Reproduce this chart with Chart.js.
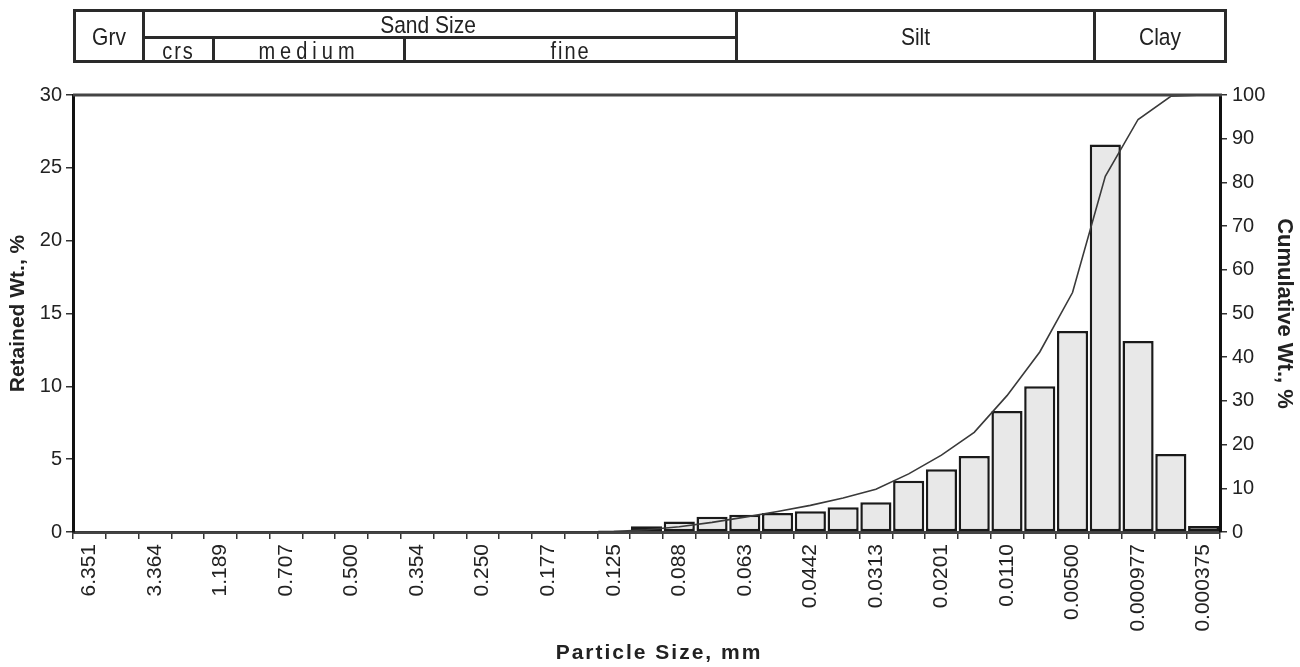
<!DOCTYPE html>
<html>
<head>
<meta charset="utf-8">
<script src="https://cdn.jsdelivr.net/npm/chart.js@4.4.1/dist/chart.umd.min.js"></script>
<style>
  body { margin: 0; background: #fff; font-family: "Liberation Sans", Arial, sans-serif; }
  #wrap { position: relative; width: 1300px; height: 667px; }
  #myChart { position: absolute; left: 0; top: 0; }
  .cell {
    position: absolute; box-sizing: border-box; border: 3px solid #2a2a2a;
    display: flex; align-items: center; justify-content: center;
    color: #222; font-size: 21px; line-height: 1;
  }
  .cell span { display: inline-block; transform: scaleY(1.15); }
  .low { font-size: 20px; letter-spacing: 2px; padding-top: 2px; }
  #xTitle {
    position: absolute; left: 0; width: 1318px; top: 640px; text-align: center;
    font-weight: bold; font-size: 21px; letter-spacing: 2px; color: #222; line-height: 24px;
  }
</style>
</head>
<body>
<div id="wrap">
  <canvas id="myChart" width="1300" height="667"></canvas>
  <div class="cell" style="left:73px;top:9px;width:72px;height:54px;"><span>Grv</span></div>
  <div class="cell" style="left:142px;top:9px;width:596px;height:30px;padding-right:24px;"><span>Sand Size</span></div>
  <div class="cell low" style="left:142px;top:36px;width:73px;height:27px;"><span>crs</span></div>
  <div class="cell low" style="left:212px;top:36px;width:194px;height:27px;letter-spacing:5px;"><span>medium</span></div>
  <div class="cell low" style="left:403px;top:36px;width:335px;height:27px;"><span>fine</span></div>
  <div class="cell" style="left:735px;top:9px;width:361px;height:54px;"><span>Silt</span></div>
  <div class="cell" style="left:1093px;top:9px;width:134px;height:54px;"><span>Clay</span></div>
  <div id="xTitle">Particle Size, mm</div>
</div>
<script>
// particle size classes, mm (only every other one is labelled)
const sizeLabels = [
  '6.351', '', '3.364', '', '1.189', '', '0.707', '', '0.500', '',
  '0.354', '', '0.250', '', '0.177', '', '0.125', '', '0.088', '',
  '0.063', '', '0.0442', '', '0.0313', '', '0.0201', '', '0.0110', '',
  '0.00500', '', '0.000977', '', '0.000375'
];

// retained weight per class, %
const retained = [
  0.02, 0.02, 0.02, 0.02, 0.02, 0.02, 0.02, 0.02, 0.02, 0.02,
  0.02, 0.02, 0.02, 0.02, 0.02, 0.02, 0.1, 0.4, 0.72, 1.04,
  1.18, 1.3, 1.42, 1.7, 2.05, 3.52, 4.3, 5.22, 8.3, 10.0,
  13.8, 26.6, 13.12, 5.36, 0.41
];

// cumulative weight, %
const cumulative = [
  0, 0, 0, 0, 0, 0, 0, 0, 0, 0,
  0, 0, 0, 0, 0, 0, 0.1, 0.5, 1.2, 2.2,
  3.4, 4.7, 6.1, 7.8, 9.8, 13.3, 17.6, 22.8, 31.2, 41.2,
  54.8, 81.4, 94.4, 99.7, 100
];

const leftTicks = { min: 0, max: 30, step: 5 };
const rightTicks = { min: 0, max: 100, step: 10 };

const textColor = '#222';

// top edge of the plot frame
const frameTop = {
  id: 'frameTop',
  afterDraw(chart) {
    let a = chart.chartArea;
    let ctx = chart.ctx;
    ctx.save();
    ctx.strokeStyle = '#444';
    ctx.lineWidth = 3;
    ctx.beginPath();
    ctx.moveTo(a.left, a.top);
    ctx.lineTo(a.right + 2, a.top);
    ctx.stroke();
    ctx.restore();
  }
};

const ctx = document.getElementById('myChart').getContext('2d');
new Chart(ctx, {
  type: 'bar',
  data: {
    labels: sizeLabels,
    datasets: [
      {
        type: 'line',
        label: 'Cumulative Wt., %',
        data: cumulative,
        yAxisID: 'y2',
        borderColor: '#3a3a3a',
        borderWidth: 1.6,
        pointRadius: 0,
        tension: 0,
        fill: false,
        order: 0
      },
      {
        label: 'Retained Wt., %',
        data: retained,
        yAxisID: 'y',
        backgroundColor: '#e8e8e8',
        borderColor: '#1a1a1a',
        borderWidth: 2.5,
        borderSkipped: false,
        barPercentage: 0.95,
        categoryPercentage: 1.0,
        order: 1
      }
    ]
  },
  options: {
    responsive: false,
    animation: false,
    layout: { padding: { top: 95, left: 0, right: 0, bottom: 0 } },
    plugins: { legend: { display: false }, tooltip: { enabled: false } },
    scales: {
      x: {
        offset: true,
        grid: { offset: true, drawOnChartArea: false, drawTicks: true, tickLength: 7, color: '#333', lineWidth: 1.5 },
        border: { display: true, color: '#444', width: 3 },
        ticks: { autoSkip: false, maxRotation: 90, minRotation: 90, padding: 5, color: textColor,
                 font: { family: 'Liberation Sans', size: 21 } },
        afterFit: function(scale) { scale.height = 135; }
      },
      y: {
        position: 'left',
        min: leftTicks.min,
        max: leftTicks.max,
        grid: { drawOnChartArea: false, drawTicks: true, tickLength: 7, color: '#333', lineWidth: 1.5 },
        border: { display: true, color: '#111', width: 3 },
        ticks: { stepSize: leftTicks.step, padding: 4, color: textColor, font: { family: 'Liberation Sans', size: 20 } },
        title: { display: true, text: 'Retained Wt., %', color: textColor,
                 font: { family: 'Liberation Sans', size: 21, weight: 'bold' }, padding: { top: 6, bottom: 0 } },
        afterFit: function(scale) { scale.width = 73; }
      },
      y2: {
        position: 'right',
        min: rightTicks.min,
        max: rightTicks.max,
        grid: { drawOnChartArea: false, drawTicks: true, tickLength: 7, color: '#333', lineWidth: 1.5 },
        border: { display: true, color: '#111', width: 3 },
        ticks: { stepSize: rightTicks.step, padding: 5, color: textColor, font: { family: 'Liberation Sans', size: 20 } },
        title: { display: true, text: 'Cumulative Wt., %', color: textColor,
                 font: { family: 'Liberation Sans', size: 22, weight: 'bold' }, padding: { top: 3, bottom: 0 } },
        afterFit: function(scale) { scale.width = 80; }
      }
    }
  },
  plugins: [frameTop]
});
</script>
</body>
</html>
